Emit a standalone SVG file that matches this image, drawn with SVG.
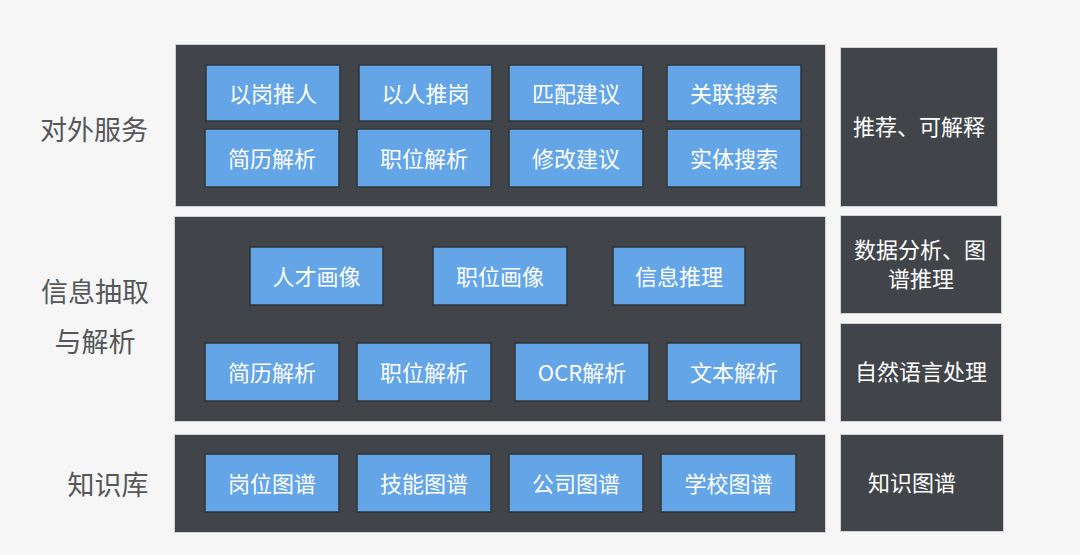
<svg xmlns="http://www.w3.org/2000/svg" width="1080" height="555" viewBox="0 0 1080 555">
<style>
.panel{fill:#414549;stroke:#cfd0d1;stroke-width:1}
.side{fill:#414549;stroke:#cfd0d1;stroke-width:1}
.blue{fill:#63a5e6;stroke:#2f3438;stroke-width:1.5}
.bt{fill:#ffffff;font-family:"Noto Sans CJK SC","Noto Sans",sans-serif;font-size:22px;text-anchor:middle;dominant-baseline:central}
.st{fill:#ffffff;font-family:"Noto Sans CJK SC","Noto Sans",sans-serif;font-size:22px;text-anchor:middle;dominant-baseline:central}
.lt{fill:#555759;font-family:"Noto Sans CJK SC","Noto Sans",sans-serif;font-size:27px;text-anchor:middle;dominant-baseline:central}
</style>
<rect x="0" y="0" width="1080" height="555" fill="#f6f6f6"/>

<g id="labels">
<text class="lt" x="94" y="128">对外服务</text>
<text class="lt" x="95" y="290">信息抽取</text>
<text class="lt" x="95" y="340">与解析</text>
<text class="lt" x="108" y="483">知识库</text>
</g>

<g id="panel-service">
<rect class="panel" x="175.5" y="44.5" width="650" height="162"/>
</g>
<g id="panel-extract">
<rect class="panel" x="174.5" y="216.5" width="651" height="205"/>
</g>
<g id="panel-kb">
<rect class="panel" x="174.5" y="434.5" width="651" height="98"/>
</g>

<g id="side-1"><rect class="side" x="840.5" y="47.5" width="157" height="159"/><text class="st" x="919" y="125">推荐、可解释</text></g>
<g id="side-2"><rect class="side" x="840.5" y="215.5" width="161" height="98"/><text class="st" x="920" y="248">数据分析、图</text><text class="st" x="921" y="277">谱推理</text></g>
<g id="side-3"><rect class="side" x="840.5" y="323.5" width="161" height="98"/><text class="st" x="921" y="370">自然语言处理</text></g>
<g id="side-4"><rect class="side" x="840.5" y="434.5" width="163" height="97"/><text class="st" x="912" y="481">知识图谱</text></g>

<g id="n-yigangtuiren"><rect class="blue" x="206" y="65" width="134" height="56"/><text class="bt" x="273" y="92">以岗推人</text></g>
<g id="n-yirentuigang"><rect class="blue" x="359" y="65" width="133" height="56"/><text class="bt" x="425.5" y="92">以人推岗</text></g>
<g id="n-pipeijianyi"><rect class="blue" x="509" y="65" width="134" height="56"/><text class="bt" x="576" y="92">匹配建议</text></g>
<g id="n-guanliansousuo"><rect class="blue" x="667" y="65" width="134" height="56"/><text class="bt" x="734" y="92">关联搜索</text></g>
<g id="n-jianlijiexi-1"><rect class="blue" x="205" y="129" width="134" height="58"/><text class="bt" x="272" y="157">简历解析</text></g>
<g id="n-zhiweijiexi-1"><rect class="blue" x="357" y="129" width="134" height="58"/><text class="bt" x="424" y="157">职位解析</text></g>
<g id="n-xiugaijianyi"><rect class="blue" x="509" y="129" width="134" height="58"/><text class="bt" x="576" y="157">修改建议</text></g>
<g id="n-shitisousuo"><rect class="blue" x="667" y="129" width="134" height="58"/><text class="bt" x="734" y="157">实体搜索</text></g>

<g id="n-rencaihuaxiang"><rect class="blue" x="250" y="247" width="133" height="58"/><text class="bt" x="316.5" y="275">人才画像</text></g>
<g id="n-zhiweihuaxiang"><rect class="blue" x="433" y="247" width="134" height="58"/><text class="bt" x="500" y="275">职位画像</text></g>
<g id="n-xinxituili"><rect class="blue" x="613" y="247" width="132" height="58"/><text class="bt" x="679" y="275">信息推理</text></g>
<g id="n-jianlijiexi-2"><rect class="blue" x="205" y="343" width="134" height="58"/><text class="bt" x="272" y="371">简历解析</text></g>
<g id="n-zhiweijiexi-2"><rect class="blue" x="357" y="343" width="134" height="58"/><text class="bt" x="424" y="371">职位解析</text></g>
<g id="n-ocrjiexi"><rect class="blue" x="515" y="343" width="134" height="58"/><text class="bt" x="582" y="371">OCR解析</text></g>
<g id="n-wenbenjiexi"><rect class="blue" x="667" y="343" width="134" height="58"/><text class="bt" x="734" y="371">文本解析</text></g>

<g id="n-gangweitupu"><rect class="blue" x="205" y="454" width="134" height="58"/><text class="bt" x="272" y="482">岗位图谱</text></g>
<g id="n-jinengtupu"><rect class="blue" x="357" y="454" width="134" height="58"/><text class="bt" x="424" y="482">技能图谱</text></g>
<g id="n-gongsitupu"><rect class="blue" x="509" y="454" width="134" height="58"/><text class="bt" x="576" y="482">公司图谱</text></g>
<g id="n-xuexiaotupu"><rect class="blue" x="661" y="454" width="135" height="58"/><text class="bt" x="728.5" y="482">学校图谱</text></g>

<g id="connectors"></g>
</svg>
